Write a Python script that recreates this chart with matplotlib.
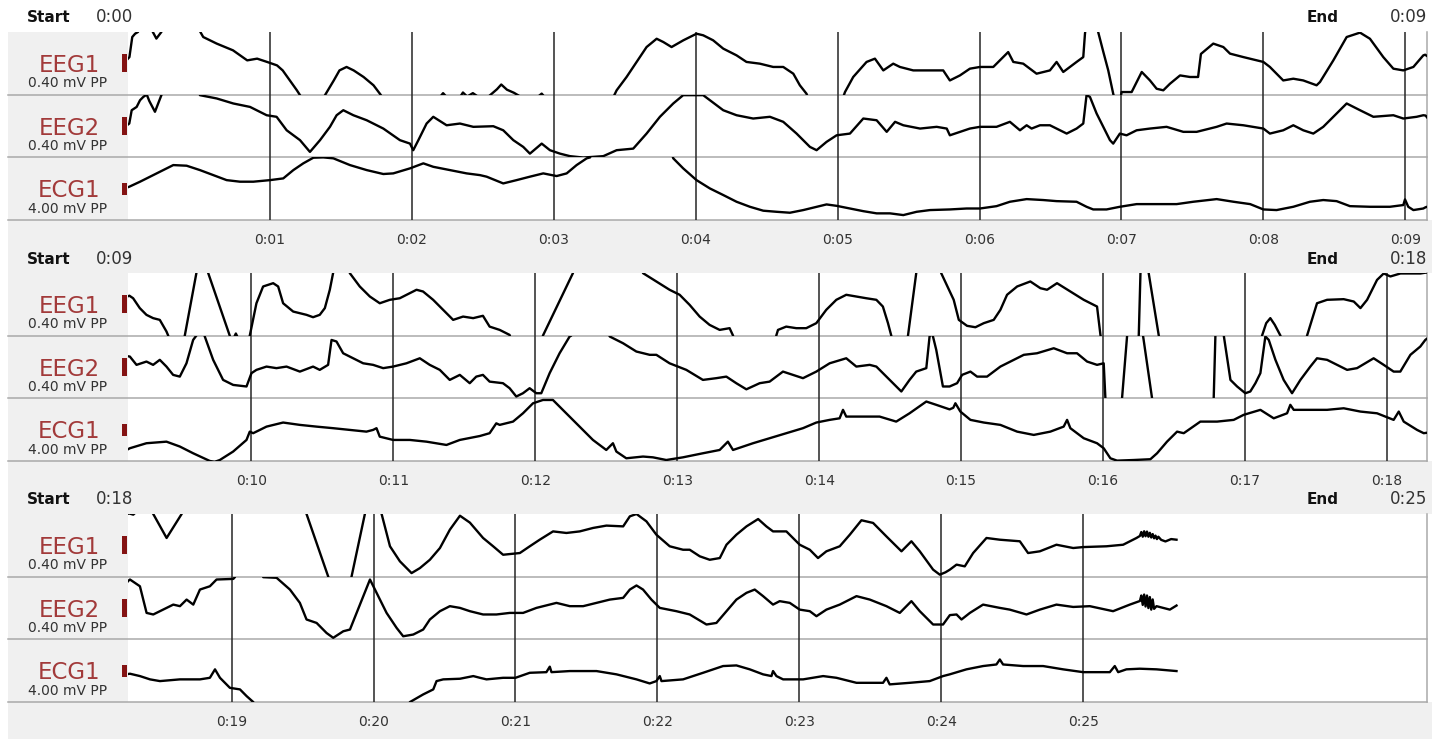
import math

import matplotlib
matplotlib.use("Agg")
import matplotlib.pyplot as plt
import numpy as np
from matplotlib.patches import Rectangle
from matplotlib.ticker import FuncFormatter

# recording samples: (time s, value); EEG in uV, ECG in mV
eeg1_pts = [
    (0.00, 30), (0.01, 40), (0.03, 168), (0.05, 189), (0.07, 200), (0.09, 235), (0.155, 235),
    (0.175, 200), (0.20, 158), (0.235, 200), (0.255, 240), (0.49, 240), (0.51, 200), (0.53, 168),
    (0.625, 126), (0.74, 83), (0.84, 19), (0.91, 30), (0.98, 9), (1.05, -13), (1.09, -45),
    (1.14, -109), (1.19, -172), (1.21, -200), (1.235, -240), (1.365, -240), (1.39, -200),
    (1.45, -109), (1.49, -45), (1.54, -23), (1.59, -45), (1.66, -87), (1.73, -140), (1.78, -200),
    (1.805, -240), (2.19, -225), (2.22, -190), (2.25, -220), (2.34, -215), (2.36, -186),
    (2.39, -212), (2.43, -190), (2.47, -215), (2.54, -212), (2.60, -165), (2.63, -135),
    (2.67, -168), (2.72, -188), (2.77, -215), (2.89, -212), (2.915, -193), (2.94, -220),
    (3.42, -215), (3.443, -172), (3.513, -87), (3.584, 9), (3.654, 104), (3.725, 157),
    (3.772, 136), (3.83, 104), (3.913, 147), (4.006, 189), (4.053, 179), (4.123, 147),
    (4.194, 94), (4.288, 51), (4.358, 9), (4.452, -2), (4.546, -23), (4.617, -23), (4.688, -66),
    (4.734, -140), (4.781, -194), (4.80, -240), (5.03, -240), (5.052, -183), (5.11, -87),
    (5.204, 9), (5.263, 30), (5.322, -45), (5.392, -2), (5.439, -23), (5.533, -45), (5.65, -45),
    (5.744, -45), (5.791, -109), (5.862, -77), (5.932, -34), (6.003, -23), (6.097, -23),
    (6.167, 40), (6.202, 72), (6.238, 9), (6.308, -2), (6.402, -66), (6.496, -45), (6.543, 9),
    (6.59, -55), (6.684, 9), (6.731, 40), (6.743, 189), (6.75, 240), (6.825, 240), (6.836, 200),
    (6.872, 74), (6.907, -45), (6.942, -194), (6.955, -240), (6.99, -240), (7.001, -183),
    (7.072, -183), (7.143, -55), (7.201, -109), (7.248, -162), (7.295, -172), (7.342, -130),
    (7.413, -77), (7.483, -87), (7.54, -87), (7.56, 60), (7.647, 126), (7.718, 104),
    (7.765, 62), (7.859, 40), (7.953, 19), (8.0, 9), (8.046, -23), (8.14, -109), (8.211, -98),
    (8.281, -109), (8.375, -140), (8.399, -119), (8.493, 19), (8.587, 168), (8.681, 196),
    (8.751, 157), (8.845, 40), (8.916, -34), (8.986, -45), (9.057, -23), (9.127, 51),
    (9.14, 55), (9.166, 39), (9.213, -24), (9.26, -67), (9.307, -88), (9.354, -99),
    (9.401, -173), (9.413, -199), (9.425, -250), (9.515, -250), (9.53, -200), (9.612, 200),
    (9.625, 250), (9.68, 250), (9.695, 200), (9.847, -200), (9.86, -250), (9.875, -215),
    (9.89, -186), (9.905, -215), (9.92, -250), (9.975, -250), (9.988, -200), (10.035, 7),
    (10.082, 114), (10.153, 135), (10.188, 114), (10.223, 7), (10.294, -46), (10.388, -67),
    (10.434, -82), (10.481, -67), (10.517, -24), (10.552, 93), (10.575, 199), (10.585, 250),
    (10.68, 250), (10.693, 199), (10.763, 114), (10.834, 50), (10.904, 7), (10.975, 29),
    (11.045, 39), (11.163, 93), (11.209, 82), (11.28, 29), (11.35, -35), (11.421, -99),
    (11.491, -78), (11.562, -88), (11.631, -73), (11.678, -142), (11.749, -163), (11.819, -195),
    (11.835, -250), (12.04, -250), (12.054, -199), (12.265, 199), (12.275, 250), (12.745, 250),
    (12.759, 199), (12.853, 146), (12.946, 93), (13.017, 61), (13.087, -3), (13.158, -78),
    (13.228, -131), (13.299, -163), (13.369, -152), (13.393, -199), (13.405, -250),
    (13.685, -250), (13.698, -199), (13.71, -163), (13.768, -142), (13.839, -152),
    (13.909, -152), (13.98, -120), (14.05, -35), (14.121, 29), (14.191, 61), (14.262, 50),
    (14.332, 39), (14.403, 29), (14.449, -14), (14.485, -120), (14.508, -199), (14.52, -250),
    (14.615, -250), (14.626, -199), (14.684, 199), (14.695, 250), (14.845, 250), (14.86, 199),
    (14.948, 29), (14.984, -99), (15.042, -137), (15.101, -146), (15.16, -120), (15.23, -99),
    (15.277, -35), (15.324, 61), (15.395, 114), (15.488, 146), (15.559, 103), (15.606, 93),
    (15.676, 135), (15.77, 82), (15.864, 29), (15.958, -14), (15.982, -195), (15.995, -250),
    (16.24, -250), (16.252, -199), (16.264, 199), (16.27, 250), (16.315, 250), (16.322, 199),
    (16.393, -199), (16.405, -250), (17.11, -250), (17.121, -199), (17.15, -120),
    (17.179, -88), (17.21, -130), (17.25, -199), (17.26, -250), (17.425, -250),
    (17.438, -199), (17.508, 7), (17.579, 29), (17.696, 33), (17.767, 18), (17.814, -24),
    (17.861, 29), (17.931, 156), (17.978, 197), (18.025, 178), (18.096, 197), (18.237, 197),
    (18.28, 203), (18.307, 196), (18.33, 215), (18.43, 225), (18.448, 200), (18.542, 47),
    (18.648, 200), (18.66, 230), (19.515, 230), (19.528, 200), (19.681, -200), (19.695, -240),
    (19.83, -240), (19.845, -200), (19.939, 200), (19.95, 230), (20.045, 230), (20.057, 200),
    (20.116, -6), (20.186, -102), (20.268, -177), (20.327, -145), (20.397, -92), (20.468, -17),
    (20.538, 100), (20.609, 189), (20.679, 145), (20.772, 47), (20.843, -6), (20.913, -60),
    (21.031, -49), (21.101, -6), (21.171, 36), (21.265, 89), (21.359, 79), (21.453, 89),
    (21.547, 111), (21.641, 126), (21.759, 121), (21.806, 185), (21.853, 200), (21.923, 153),
    (21.993, 68), (22.087, -6), (22.181, -28), (22.228, -28), (22.299, -70), (22.369, -92),
    (22.44, -81), (22.487, 4), (22.557, 68), (22.628, 121), (22.71, 168), (22.768, 121),
    (22.815, 89), (22.909, 89), (23.003, 4), (23.074, -28), (23.132, -81), (23.191, -38),
    (23.285, -6), (23.356, 68), (23.438, 160), (23.52, 143), (23.614, 57), (23.72, -38),
    (23.79, 26), (23.849, -38), (23.943, -155), (23.99, -187), (24.03, -172), (24.061, -155),
    (24.108, -123), (24.166, -134), (24.225, -49), (24.319, 47), (24.413, 36), (24.554, 26),
    (24.612, -49), (24.695, -38), (24.812, 4), (24.93, -17), (25.0, -11), (25.164, -6),
    (25.282, 4), (25.376, 47), (25.40, 60), (25.41, 85), (25.42, 55), (25.43, 90), (25.44, 58),
    (25.45, 88), (25.46, 55), (25.47, 80), (25.48, 50), (25.49, 72), (25.50, 45), (25.51, 62),
    (25.52, 40), (25.53, 55), (25.55, 35), (25.58, 25), (25.62, 40), (25.658, 36),
]

eeg2_pts = [
    (0.00, 10), (0.009, 16), (0.026, 101), (0.061, 122), (0.085, 165), (0.108, 186),
    (0.132, 201), (0.15, 160), (0.19, 91), (0.237, 201), (0.25, 240), (0.495, 240),
    (0.507, 197), (0.625, 176), (0.742, 144), (0.86, 122), (0.977, 69), (1.047, 59),
    (1.118, -27), (1.212, -90), (1.282, -165), (1.353, -90), (1.423, -5), (1.47, 69),
    (1.517, 101), (1.588, 69), (1.682, 37), (1.799, -16), (1.916, -90), (1.987, -112),
    (2.01, -154), (2.046, -90), (2.104, 16), (2.151, 59), (2.245, 5), (2.339, 16), (2.433, -5),
    (2.574, -1), (2.644, -27), (2.715, -90), (2.785, -133), (2.832, -176), (2.915, -112),
    (2.973, -154), (3.044, -176), (3.114, -192), (3.208, -201), (3.349, -192), (3.443, -154),
    (3.56, -144), (3.654, -48), (3.748, 59), (3.842, 144), (3.912, 197), (4.053, 197),
    (4.1, 165), (4.194, 101), (4.288, 69), (4.405, 48), (4.523, 59), (4.617, 27), (4.711, -48),
    (4.805, -133), (4.852, -154), (4.922, -101), (4.993, -59), (5.087, -48), (5.181, 48),
    (5.275, 37), (5.346, -37), (5.405, 27), (5.463, 5), (5.581, -16), (5.698, -5),
    (5.769, -16), (5.791, -59), (5.862, -37), (5.932, -16), (6.003, -5), (6.12, -5),
    (6.214, 27), (6.285, -27), (6.332, 5), (6.367, -16), (6.426, 5), (6.496, 5), (6.567, -27),
    (6.614, -48), (6.684, -16), (6.731, 16), (6.754, 197), (6.778, 186), (6.825, 80),
    (6.872, -5), (6.919, -90), (6.942, -112), (6.989, -48), (7.036, -59), (7.107, -27),
    (7.201, -16), (7.318, -5), (7.436, -37), (7.53, -37), (7.671, -5), (7.741, 16), (7.859, 5),
    (8.0, -16), (8.046, -48), (8.14, -27), (8.211, 5), (8.281, -27), (8.352, -48), (8.422, -5),
    (8.493, 59), (8.587, 144), (8.681, 101), (8.775, 59), (8.916, 69), (8.986, 48), (9.08, 59),
    (9.127, 69), (9.143, 67), (9.19, 14), (9.26, 35), (9.307, 14), (9.354, 46), (9.401, 3),
    (9.448, -50), (9.495, -61), (9.542, 24), (9.589, 173), (9.612, 201), (9.62, 230),
    (9.66, 230), (9.671, 195), (9.73, 46), (9.8, -82), (9.871, -114), (9.965, -124),
    (10.0, -39), (10.035, -18), (10.106, 3), (10.176, -7), (10.247, 3), (10.341, -29),
    (10.434, 3), (10.481, -18), (10.54, 14), (10.564, 173), (10.599, 163), (10.646, 88),
    (10.716, 56), (10.787, 24), (10.857, 14), (10.928, -7), (10.998, 3), (11.092, 24),
    (11.186, 56), (11.256, 14), (11.327, -18), (11.397, -82), (11.468, -50), (11.538, -103),
    (11.584, -61), (11.631, -50), (11.678, -93), (11.772, -103), (11.819, -135),
    (11.866, -188), (11.913, -167), (11.96, -135), (12.007, -167), (12.042, -167),
    (12.101, -39), (12.171, 88), (12.242, 195), (12.254, 201), (12.265, 240), (12.51, 240),
    (12.524, 195), (12.618, 152), (12.712, 99), (12.806, 78), (12.853, 78), (12.946, 24),
    (13.064, -18), (13.181, -82), (13.275, -71), (13.346, -61), (13.416, -103),
    (13.487, -142), (13.581, -103), (13.651, -93), (13.745, -29), (13.815, -50), (13.886, -71),
    (13.98, -29), (14.074, 24), (14.191, 56), (14.262, 3), (14.356, 14), (14.403, 3),
    (14.497, -82), (14.579, -156), (14.637, -82), (14.684, -29), (14.755, -7), (14.778, 195),
    (14.79, 215), (14.802, 195), (14.825, 110), (14.872, -124), (14.919, -124),
    (14.972, -103), (15.007, -50), (15.066, -29), (15.113, -61), (15.183, -61), (15.277, 3),
    (15.348, 35), (15.442, 78), (15.535, 88), (15.653, 120), (15.747, 88), (15.817, 88),
    (15.888, 35), (15.958, 14), (16.005, 24), (16.017, -201), (16.025, -250), (16.125, -250),
    (16.134, -201), (16.17, 201), (16.18, 250), (16.27, 250), (16.282, 201), (16.346, -201),
    (16.355, -250), (16.77, -250), (16.78, -201), (16.792, 201), (16.80, 250), (16.843, 250),
    (16.851, 201), (16.898, -82), (16.945, -124), (17.003, -167), (17.038, -156),
    (17.074, -103), (17.109, -39), (17.144, 195), (17.168, 173), (17.215, 46), (17.273, -82),
    (17.332, -167), (17.391, -82), (17.461, 3), (17.508, 56), (17.579, 46), (17.649, 14),
    (17.72, -18), (17.79, -7), (17.907, 56), (17.978, 14), (18.048, -29), (18.095, -29),
    (18.166, 78), (18.236, 131), (18.271, 173), (18.284, 182), (18.354, 139), (18.401, -31),
    (18.448, -41), (18.495, -20), (18.542, 1), (18.589, 22), (18.636, 12), (18.683, 54),
    (18.73, 22), (18.777, 118), (18.847, 139), (18.894, 182), (19.012, 186), (19.023, 197),
    (19.035, 240), (19.21, 240), (19.223, 197), (19.317, 193), (19.411, 118), (19.481, 33),
    (19.528, -73), (19.599, -95), (19.669, -159), (19.716, -190), (19.787, -148),
    (19.834, -137), (19.904, 22), (19.975, 182), (20.022, 97), (20.092, -31), (20.163, -127),
    (20.209, -180), (20.28, -169), (20.35, -137), (20.397, -73), (20.468, -20), (20.538, 12),
    (20.609, 1), (20.679, -20), (20.772, -41), (20.866, -41), (20.96, -31), (21.054, -31),
    (21.148, 1), (21.289, 33), (21.383, 12), (21.477, 12), (21.571, 33), (21.665, 54),
    (21.759, 65), (21.806, 118), (21.853, 144), (21.899, 118), (21.958, 54), (22.017, 1),
    (22.134, -20), (22.228, -41), (22.346, -105), (22.416, -95), (22.487, -20), (22.557, 54),
    (22.628, 97), (22.686, 118), (22.745, 76), (22.815, 22), (22.862, 44), (22.933, 33),
    (23.003, -10), (23.074, -20), (23.121, -52), (23.191, -10), (23.285, 22), (23.403, 76),
    (23.497, 54), (23.614, 12), (23.708, -31), (23.79, 44), (23.849, -20), (23.943, -105),
    (24.013, -105), (24.061, -45), (24.108, -41), (24.143, -73), (24.202, -31), (24.295, 22),
    (24.413, 1), (24.483, -10), (24.601, -41), (24.695, -10), (24.812, 22), (24.93, 7),
    (25.047, 12), (25.211, -20), (25.329, 22), (25.40, 45), (25.41, 80), (25.42, 20),
    (25.43, 86), (25.44, 10), (25.45, 80), (25.46, 0), (25.47, 70), (25.48, -10), (25.49, 55),
    (25.50, -5), (25.517, 12), (25.611, -10), (25.658, 16),
]

ecg1_pts = [
    (0.0, 0.10), (0.009, 0.13), (0.085, 0.45), (0.178, 0.87), (0.272, 1.30), (0.319, 1.51),
    (0.413, 1.47), (0.507, 1.19), (0.601, 0.87), (0.695, 0.55), (0.789, 0.45), (0.883, 0.45),
    (1.0, 0.55), (1.094, 0.66), (1.165, 1.19), (1.235, 1.62), (1.306, 1.98), (1.376, 2.0),
    (1.447, 1.94), (1.564, 1.51), (1.682, 1.19), (1.799, 0.94), (1.869, 0.98), (1.987, 1.30),
    (2.081, 1.62), (2.151, 1.40), (2.269, 1.19), (2.386, 0.98), (2.48, 0.87), (2.527, 0.77),
    (2.644, 0.34), (2.738, 0.55), (2.832, 0.77), (2.926, 0.98), (3.02, 0.81), (3.091, 0.98),
    (3.161, 1.51), (3.232, 1.94), (3.256, 2.0), (3.27, 2.3), (3.83, 2.3), (3.842, 1.94),
    (3.912, 1.30), (4.006, 0.55), (4.1, 0.02), (4.194, -0.40), (4.288, -0.83), (4.382, -1.15),
    (4.476, -1.40), (4.57, -1.47), (4.664, -1.53), (4.758, -1.36), (4.852, -1.15),
    (4.922, -1.0), (4.993, -1.09), (5.087, -1.26), (5.181, -1.43), (5.275, -1.57),
    (5.369, -1.57), (5.463, -1.68), (5.557, -1.47), (5.651, -1.36), (5.791, -1.32),
    (5.909, -1.26), (6.003, -1.26), (6.12, -1.11), (6.214, -0.83), (6.332, -0.66),
    (6.449, -0.72), (6.543, -0.79), (6.684, -0.83), (6.754, -1.15), (6.801, -1.32),
    (6.895, -1.32), (6.989, -1.15), (7.107, -0.98), (7.248, -0.98), (7.389, -0.98),
    (7.506, -0.83), (7.671, -0.66), (7.79, -0.83), (7.907, -0.98), (8.0, -1.32),
    (8.093, -1.36), (8.211, -1.15), (8.328, -0.83), (8.422, -0.72), (8.516, -0.79),
    (8.61, -1.11), (8.751, -1.15), (8.892, -1.15), (8.986, -1.04), (8.998, -0.68),
    (9.021, -1.15), (9.057, -1.36), (9.127, -1.26), (9.143, -1.18), (9.26, -0.86),
    (9.401, -0.76), (9.495, -1.07), (9.589, -1.5), (9.706, -1.99), (9.74, -2.05),
    (9.777, -1.93), (9.871, -1.39), (9.965, -0.65), (9.988, -0.12), (10.012, -0.22),
    (10.106, 0.20), (10.223, 0.46), (10.341, 0.31), (10.458, 0.20), (10.575, 0.10),
    (10.693, -0.01), (10.81, -0.12), (10.857, -0.01), (10.881, 0.10), (10.904, -0.44),
    (10.998, -0.65), (11.116, -0.65), (11.233, -0.76), (11.374, -0.97), (11.468, -0.65),
    (11.609, -0.40), (11.678, -0.22), (11.725, 0.41), (11.749, 0.31), (11.843, 0.52),
    (11.913, 1.05), (11.984, 1.69), (12.054, 1.90), (12.124, 1.90), (12.218, 1.05),
    (12.312, 0.20), (12.406, -0.65), (12.5, -1.29), (12.547, -0.86), (12.571, -1.39),
    (12.641, -1.82), (12.759, -1.71), (12.829, -1.76), (12.923, -1.93), (13.04, -1.76),
    (13.181, -1.50), (13.299, -1.29), (13.357, -0.76), (13.393, -1.29), (13.534, -0.86),
    (13.651, -0.54), (13.768, -0.22), (13.886, 0.10), (13.98, 0.46), (14.074, 0.63),
    (14.144, 0.73), (14.168, 1.27), (14.191, 0.84), (14.309, 0.84), (14.426, 0.84),
    (14.543, 0.52), (14.637, 1.05), (14.755, 1.80), (14.825, 1.59), (14.919, 1.30),
    (14.945, 1.40), (14.96, 1.69), (14.995, 1.16), (15.066, 0.63), (15.16, 0.46),
    (15.277, 0.31), (15.395, -0.12), (15.512, -0.33), (15.629, -0.12), (15.723, 0.20),
    (15.747, 0.63), (15.77, 0.10), (15.864, -0.54), (15.958, -0.86), (16.005, -1.18),
    (16.052, -1.82), (16.099, -1.97), (16.217, -1.93), (16.334, -1.88), (16.381, -1.50),
    (16.451, -0.76), (16.522, -0.12), (16.569, -0.22), (16.686, 0.52), (16.804, 0.52),
    (16.921, 0.63), (16.991, 0.95), (17.109, 1.27), (17.203, 0.73), (17.297, 1.05),
    (17.32, 1.59), (17.344, 1.27), (17.461, 1.27), (17.579, 1.27), (17.696, 1.37),
    (17.814, 1.16), (17.931, 1.05), (18.048, 0.63), (18.084, 1.16), (18.119, 0.52),
    (18.213, -0.01), (18.26, -0.22), (18.284, -0.19), (18.354, -0.34), (18.425, -0.55),
    (18.495, -0.66), (18.636, -0.55), (18.777, -0.55), (18.847, -0.45), (18.883, 0.09),
    (18.918, -0.45), (18.988, -1.09), (19.059, -1.19), (19.106, -1.62), (19.153, -2.0),
    (19.17, -2.4), (20.24, -2.4), (20.256, -2.0), (20.35, -1.51), (20.421, -1.19),
    (20.444, -0.66), (20.491, -0.55), (20.609, -0.51), (20.703, -0.34), (20.75, -0.45),
    (20.796, -0.55), (20.913, -0.45), (21.0, -0.45), (21.101, -0.13), (21.218, -0.09),
    (21.242, 0.26), (21.254, -0.09), (21.383, -0.02), (21.571, -0.02), (21.712, -0.23),
    (21.853, -0.55), (21.946, -0.81), (21.993, -0.66), (22.017, -0.34), (22.029, -0.66),
    (22.181, -0.55), (22.322, -0.13), (22.463, 0.30), (22.557, 0.34), (22.651, 0.09),
    (22.745, -0.23), (22.804, -0.34), (22.815, -0.02), (22.839, -0.34), (22.886, -0.55),
    (23.027, -0.55), (23.168, -0.34), (23.262, -0.45), (23.403, -0.77), (23.59, -0.77),
    (23.614, -0.45), (23.637, -0.87), (23.778, -0.77), (23.919, -0.66), (24.013, -0.34),
    (24.06, -0.23), (24.178, 0.09), (24.295, 0.30), (24.389, 0.40), (24.413, 0.72),
    (24.436, 0.40), (24.577, 0.30), (24.718, 0.30), (24.859, 0.09), (25.0, -0.09),
    (25.188, -0.09), (25.223, 0.30), (25.247, -0.09), (25.305, 0.09), (25.399, 0.13),
    (25.517, 0.09), (25.658, -0.02),
]

channel_names = ["EEG1", "EEG2", "ECG1"]
channel_scales = ["0.40 mV PP", "0.40 mV PP", "4.00 mV PP"]
channel_half_range = [200, 200, 2.0]   # half of the peak-to-peak span, in data units
panel_starts = [0.0, 9.13, 18.27]
panel_span = 9.153
record_end = 25.66

# page geometry (pixels)
W, H = 1432, 739
X0, X1 = 128, 1427
LEFT = 8
PANEL_TOPS = [32, 273, 514]
ROW_H = 62.7
GRAY = "#f0f0f0"
SEP = "#a9a9a9"
LABEL_RED = "#a23a3a"
MARK_RED = "#841313"


def clock(sec):
    s = int(round(sec)) if abs(sec - round(sec)) < 1e-6 else int(sec)
    return f"{s // 60}:{s % 60:02d}"


traces = [np.array(eeg1_pts), np.array(eeg2_pts), np.array(ecg1_pts)]

fig = plt.figure(figsize=(W / 100, H / 100), dpi=100)
bg = fig.add_axes([0, 0, 1, 1])
bg.set_xlim(0, W)
bg.set_ylim(H, 0)
bg.axis("off")

for p, (top, start) in enumerate(zip(PANEL_TOPS, panel_starts)):
    bottom = top + 3 * ROW_H
    next_top = PANEL_TOPS[p + 1] if p + 1 < len(PANEL_TOPS) else H
    bg.add_patch(Rectangle((LEFT, bottom), W - LEFT, next_top - bottom, color=GRAY, lw=0))
    bg.add_patch(Rectangle((LEFT, top), X0 - LEFT, 3 * ROW_H, color=GRAY, lw=0))
    for r in range(1, 4):
        y = top + r * ROW_H
        bg.plot([LEFT, X1], [y, y], color=SEP, lw=1.1)
    bg.plot([X1, X1], [top, bottom], color=SEP, lw=1.1)

    end = start + panel_span
    shown_end = min(end, record_end)
    base = top - 9.5
    bg.text(27, base, "Start", fontsize=11, fontweight="bold", color="#111111", va="baseline")
    bg.text(96, base, clock(start), fontsize=12, color="#333333", va="baseline")
    bg.text(1307, base, "End", fontsize=11, fontweight="bold", color="#111111", va="baseline")
    bg.text(X1, base, clock(shown_end), fontsize=12, color="#333333", va="baseline", ha="right")

    secs = list(range(math.floor(start) + 1, math.floor(shown_end) + 1))

    for r in range(3):
        cy = top + (r + 0.5) * ROW_H
        bg.text(69, cy + 8.5, channel_names[r], ha="center", va="baseline",
                fontsize=16.5, color=LABEL_RED)
        bg.text(68, cy + 24, channel_scales[r], ha="center", va="baseline",
                fontsize=10, color="#333333")
        mh = 18 if r < 2 else 12
        bg.add_patch(Rectangle((122, cy - mh / 2), 5, mh, color=MARK_RED, lw=0))

        ax = fig.add_axes([X0 / W, 1 - (top + (r + 1) * ROW_H) / H, (X1 - X0) / W, ROW_H / H])
        ax.patch.set_alpha(0)
        for s in ax.spines.values():
            s.set_visible(False)
        data = traces[r]
        ax.plot(data[:, 0], data[:, 1], color="black", lw=1.7, solid_joinstyle="round")
        ax.set_xlim(start, end)
        hr = channel_half_range[r]
        ax.set_ylim(-hr, hr)
        ax.set_yticks([])
        ax.set_xticks(secs)
        ax.xaxis.set_major_formatter(FuncFormatter(lambda v, _: clock(v)))
        ax.grid(axis="x", color="#262626", lw=1.1)
        ax.set_axisbelow(True)
        ax.tick_params(axis="x", length=0, pad=9, labelsize=10, labelcolor="#333333",
                       labelbottom=(r == 2))

fig.savefig("out.png", dpi=100)
